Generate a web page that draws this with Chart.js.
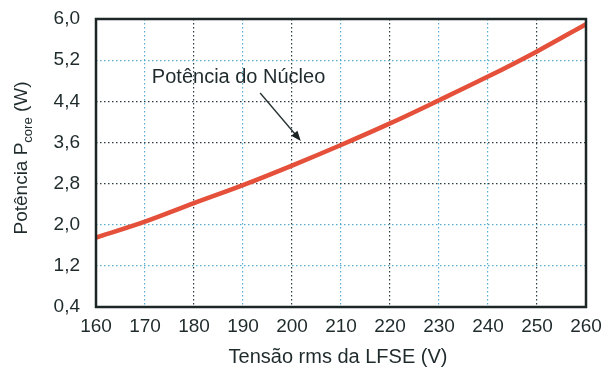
<!DOCTYPE html>
<html>
<head>
<meta charset="utf-8">
<script src="https://cdn.jsdelivr.net/npm/chart.js@4.4.0/dist/chart.umd.min.js"></script>
<style>
  html, body { margin: 0; padding: 0; background: #fff; }
  #wrap { width: 602px; height: 372px; }
</style>
</head>
<body>
<div id="wrap"><canvas id="chart" width="602" height="372"></canvas></div>
<script>
// data
const voltage = [160, 170, 180, 190, 200, 210, 220, 230, 240, 250, 260];
const corePower = [1.75, 2.06, 2.42, 2.77, 3.15, 3.55, 3.97, 4.42, 4.88, 5.37, 5.9];
const xTicks = [160, 170, 180, 190, 200, 210, 220, 230, 240, 250, 260];
const yTicks = [0.4, 1.2, 2.0, 2.8, 3.6, 4.4, 5.2, 6.0];

const noteText = "Potência do Núcleo";
const notePos = { x: 171.4, y: 4.87 };
const arrowFrom = { x: 193.5, y: 4.56 };
const arrowTo = { x: 201.8, y: 3.63 };

const xTitle = "Tensão rms da LFSE (V)";

const textColor = "#1f2a2c";
const font = "Liberation Sans, Arial, sans-serif";
const darkX = [180, 200, 220, 250];
const darkY = [4.4, 3.6, 2.8];

function fmt(v) {
  return v.toFixed(1).replace(".", ",");
}

// frame, note, arrow and axis titles
const extras = {
  id: "extras",
  afterDraw(chart) {
    const c = chart.ctx;
    const a = chart.chartArea;
    const xs = chart.scales.x;
    const ys = chart.scales.y;
    c.save();

    c.strokeStyle = "#1c2626";
    c.lineWidth = 2.5;
    c.strokeRect(a.left, a.top, a.right - a.left, a.bottom - a.top);

    c.fillStyle = textColor;
    c.font = "20px " + font;
    c.textBaseline = "middle";
    c.textAlign = "left";
    c.fillText(noteText, xs.getPixelForValue(notePos.x), ys.getPixelForValue(notePos.y));

    const x1 = xs.getPixelForValue(arrowFrom.x), y1 = ys.getPixelForValue(arrowFrom.y);
    const x2 = xs.getPixelForValue(arrowTo.x), y2 = ys.getPixelForValue(arrowTo.y);
    const ang = Math.atan2(y2 - y1, x2 - x1);
    c.strokeStyle = "#2a3436";
    c.lineWidth = 1.4;
    c.beginPath();
    c.moveTo(x1, y1);
    c.lineTo(x2 - 7 * Math.cos(ang), y2 - 7 * Math.sin(ang));
    c.stroke();
    c.fillStyle = "#1a2224";
    c.beginPath();
    c.moveTo(x2, y2);
    c.lineTo(x2 - 10 * Math.cos(ang) + 4 * Math.sin(ang), y2 - 10 * Math.sin(ang) - 4 * Math.cos(ang));
    c.lineTo(x2 - 10 * Math.cos(ang) - 4 * Math.sin(ang), y2 - 10 * Math.sin(ang) + 4 * Math.cos(ang));
    c.closePath();
    c.fill();

    // x title
    c.fillStyle = textColor;
    c.textAlign = "center";
    c.font = "20px " + font;
    c.fillText(xTitle, (a.left + a.right) / 2 - 3, 357);

    // y title with subscript
    c.translate(20, 158);
    c.rotate(-Math.PI / 2);
    const p1 = "Potência P", sub = "core", p2 = " (W)";
    c.font = "19px " + font;
    const w1 = c.measureText(p1).width, w3 = c.measureText(p2).width;
    c.font = "13px " + font;
    const w2 = c.measureText(sub).width;
    let x = -(w1 + w2 + w3) / 2;
    c.textAlign = "left";
    c.textBaseline = "alphabetic";
    c.font = "19px " + font;
    c.fillText(p1, x, 7);
    x += w1;
    c.font = "13px " + font;
    c.fillText(sub, x, 12);
    x += w2;
    c.font = "19px " + font;
    c.fillText(p2, x, 7);
    c.restore();
  }
};

new Chart(document.getElementById("chart"), {
  type: "line",
  data: {
    datasets: [
      {
        label: "Potência do Núcleo",
        data: voltage.map((v, i) => ({ x: v, y: corePower[i] })),
        borderColor: "#e5503a",
        borderWidth: 4.5,
        pointRadius: 0,
        tension: 0.4,
        cubicInterpolationMode: "monotone",
        fill: false,
      },
    ],
  },
  options: {
    responsive: false,
    animation: false,
    layout: { padding: { left: 0, right: 16, top: 19, bottom: 0 } },
    plugins: { legend: { display: false }, tooltip: { enabled: false } },
    scales: {
      x: {
        type: "linear",
        min: 160,
        max: 260,
        afterBuildTicks: (s) => { s.ticks = xTicks.map((v) => ({ value: v })); },
        afterFit: (s) => { s.height = 65; s.paddingLeft = 0; s.paddingRight = 0; },
        ticks: {
          color: textColor,
          font: { family: font, size: 19 },
          padding: 8,
          maxRotation: 0,
          autoSkip: false,
        },
        grid: {
          drawTicks: false,
          lineWidth: 1.2,
          color: (ctx) => (ctx.tick && darkX.includes(ctx.tick.value) ? "#2e3c42" : "#5aaed0"),
        },
        border: { display: false, dash: [1.5, 2.5] },
      },
      y: {
        min: 0.4,
        max: 6.0,
        afterBuildTicks: (s) => { s.ticks = yTicks.map((v) => ({ value: v })); },
        afterFit: (s) => { s.width = 96; s.paddingTop = 0; s.paddingBottom = 0; },
        ticks: {
          color: textColor,
          font: { family: font, size: 19 },
          padding: 16,
          autoSkip: false,
          callback: (v) => fmt(v),
        },
        grid: {
          drawTicks: false,
          lineWidth: 1.2,
          color: (ctx) => (ctx.tick && darkY.some((d) => Math.abs(d - ctx.tick.value) < 1e-6) ? "#2e3c42" : "#5aaed0"),
        },
        border: { display: false, dash: [1.5, 2.5] },
      },
    },
  },
  plugins: [extras],
});
</script>
</body>
</html>
